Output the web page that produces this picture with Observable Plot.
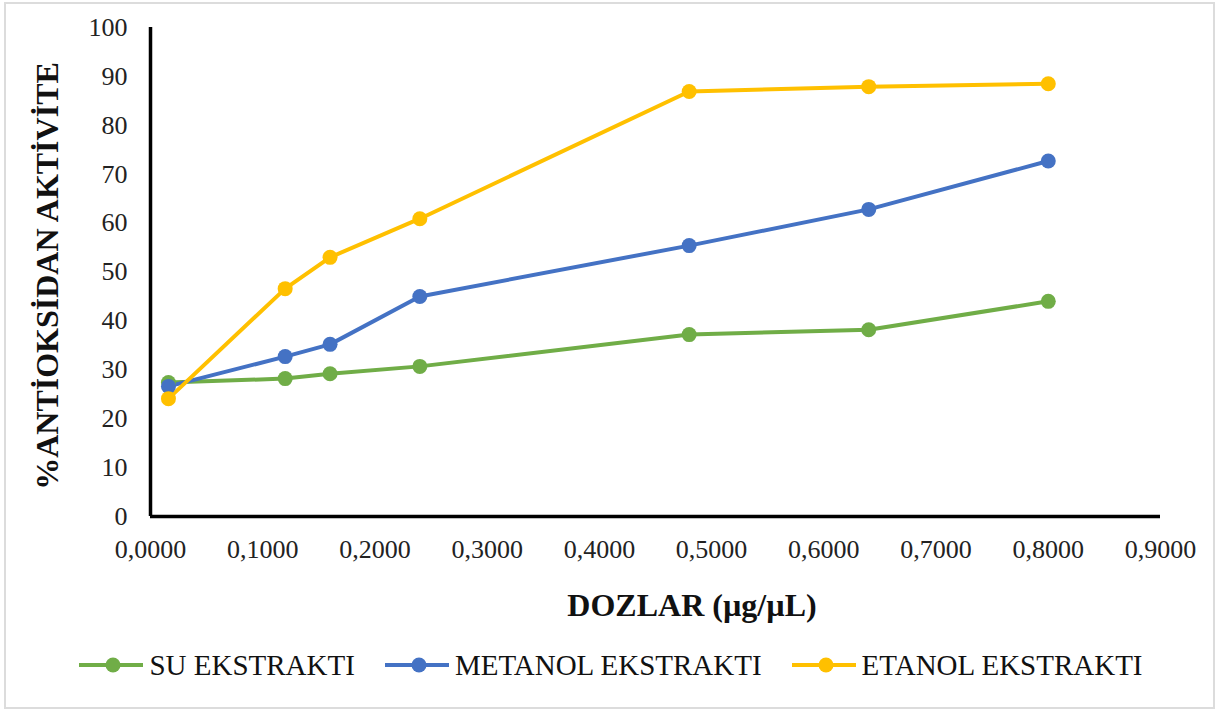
<!DOCTYPE html>
<html>
<head>
<meta charset="utf-8">
<script src="https://cdn.jsdelivr.net/npm/d3@7"></script>
<script src="https://cdn.jsdelivr.net/npm/@observablehq/plot@0.6"></script>
<style>
  html, body { margin: 0; padding: 0; background: #fff; }
  #wrap { position: relative; width: 1222px; height: 713px; overflow: hidden; font-family: "Liberation Serif", "Times New Roman", serif; }
  #border { position: absolute; left: 4px; top: 2px; width: 1211px; height: 707px; border: 2px solid #dcdcdc; box-sizing: border-box; pointer-events: none; }
  #chart { position: absolute; left: 0; top: 0; }
  .xtitle { position: absolute; left: 0; width: 1384px; top: 585px; text-align: center; font-weight: bold; font-size: 32px; color: #111; line-height: 40px; }
  .ytitle { position: absolute; left: 47px; top: 276px; transform: translate(-50%, -50%) rotate(-90deg); white-space: nowrap; font-weight: bold; font-size: 32px; color: #111; line-height: 34px; }
  #legend { position: absolute; left: 0; top: 646px; width: 1222px; display: flex; justify-content: center; gap: 30px; font-size: 29px; color: #111; line-height: 38px; }
  .item { display: flex; align-items: center; gap: 6px; }
</style>
</head>
<body>
<div id="wrap">
  <div id="chart"></div>
  <div class="xtitle">DOZLAR (µg/µL)</div>
  <div class="ytitle">%ANTİOKSİDAN AKTİVİTE</div>
  <div id="legend"></div>
  <div id="border"></div>
</div>
<script>
const doses = [0.016, 0.12, 0.16, 0.24, 0.48, 0.64, 0.80];
const seriesNames = ["SU EKSTRAKTI", "METANOL EKSTRAKTI", "ETANOL EKSTRAKTI"];
const suValues = [27.4, 28.2, 29.2, 30.7, 37.2, 38.2, 44.0];
const metanolValues = [26.6, 32.7, 35.2, 45.0, 55.4, 62.8, 72.7];
const etanolValues = [24.1, 46.6, 53.0, 60.9, 86.9, 87.9, 88.5];
const colors = ["#70AD47", "#4472C4", "#FFC000"];
const xTicks = [0, 0.1, 0.2, 0.3, 0.4, 0.5, 0.6, 0.7, 0.8, 0.9];
const yTicks = [0, 10, 20, 30, 40, 50, 60, 70, 80, 90, 100];

const allValues = [suValues, metanolValues, etanolValues];
const data = [];
seriesNames.forEach((s, i) => {
  doses.forEach((d, j) => data.push({series: s, x: d, y: allValues[i][j]}));
});

const chart = Plot.plot({
  width: 1222,
  height: 713,
  marginLeft: 150,
  marginRight: 62,
  marginTop: 27,
  marginBottom: 197,
  style: { fontFamily: "Liberation Serif, Times New Roman, serif", background: "transparent", color: "#222" },
  x: { domain: [0, 0.9] },
  y: { domain: [0, 100] },
  color: { domain: seriesNames, range: colors },
  marks: [
    Plot.axisX({ ticks: xTicks, tickSize: 0, tickPadding: 23, fontSize: 26, label: null,
      tickFormat: d => d.toFixed(4).replace(".", ",") }),
    Plot.axisY({ ticks: yTicks, tickSize: 0, tickPadding: 23, fontSize: 26, label: null }),
    Plot.line(data, { x: "x", y: "y", z: "series", stroke: "series", strokeWidth: 4 }),
    Plot.dot(data, { x: "x", y: "y", fill: "series", r: 7.5 }),
    Plot.ruleX([0], { stroke: "#000", strokeWidth: 3.5 }),
    Plot.ruleY([0], { stroke: "#000", strokeWidth: 3.5 })
  ]
});
document.getElementById("chart").appendChild(chart);

const legend = document.getElementById("legend");
seriesNames.forEach((s, i) => {
  const item = document.createElement("div");
  item.className = "item";
  item.innerHTML = `<svg width="64" height="20"><line x1="0" y1="10" x2="64" y2="10" stroke="${colors[i]}" stroke-width="4"/><circle cx="34" cy="10" r="7.5" fill="${colors[i]}"/></svg><span>${s}</span>`;
  legend.appendChild(item);
});
</script>
</body>
</html>
